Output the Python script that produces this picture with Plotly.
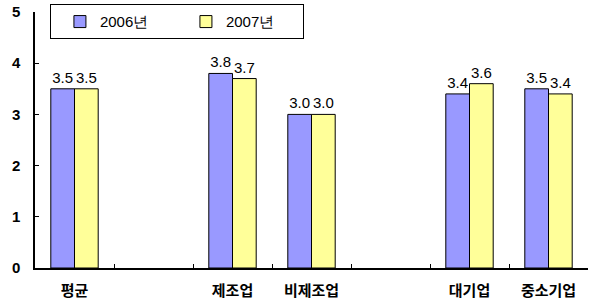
import plotly.graph_objects as go

categories = ["평균", "", "제조업", "비제조업", "", "대기업", "중소기업"]
cat_ids = ["c0", "c1", "c2", "c3", "c4", "c5", "c6"]
series_names = ["2006년", "2007년"]
values_2006 = [3.5, None, 3.8, 3.0, None, 3.4, 3.5]
values_2007 = [3.5, None, 3.7, 3.0, None, 3.6, 3.4]
colors = ["#9999FF", "#FFFF99"]

fig = go.Figure()
for name, vals, col in zip(series_names, [values_2006, values_2007], colors):
    fig.add_trace(go.Bar(
        x=cat_ids, y=vals, name=name,
        marker=dict(color=col, line=dict(color="black", width=1)),
        text=[("%.1f" % v) if v is not None else "" for v in vals],
        textposition="outside", cliponaxis=False,
        textfont=dict(family="Liberation Sans, Arial", size=15, color="black"),
    ))

fig.update_layout(
    width=600, height=301,
    margin=dict(l=35, r=12, t=12, b=33, autoexpand=False),
    paper_bgcolor="white", plot_bgcolor="white",
    barmode="group", bargap=0.4, bargroupgap=0,
    showlegend=True,
    legend=dict(
        orientation="h", x=0.027, y=1.03, xanchor="left", yanchor="top",
        bgcolor="white", bordercolor="black", borderwidth=1,
        font=dict(family="Liberation Sans, Arial", size=15, color="black"),
        entrywidth=72, entrywidthmode="pixels", indentation=9,
        traceorder="normal",
    ),
    xaxis=dict(
        type="category", categoryorder="array", categoryarray=cat_ids,
        tickmode="array", tickvals=cat_ids, ticktext=categories,
        tickson="boundaries", ticks="inside", ticklen=4, tickcolor="black",
        showline=True, linecolor="black", linewidth=1.5,
        showgrid=False, zeroline=False, automargin=False,
        tickfont=dict(family="Noto Sans CJK KR", size=15, color="black", weight="bold"),
        ticklabelstandoff=8,
    ),
    yaxis=dict(
        range=[0, 5], tickvals=[0, 1, 2, 3, 4, 5],
        ticks="inside", ticklen=4, tickcolor="black",
        showline=True, linecolor="black", linewidth=1.5,
        showgrid=False, zeroline=False, automargin=False,
        tickfont=dict(family="Liberation Sans, Arial", size=15, color="black", weight="bold"),
        ticklabelstandoff=10,
    ),
)

fig.write_html("out.html")
